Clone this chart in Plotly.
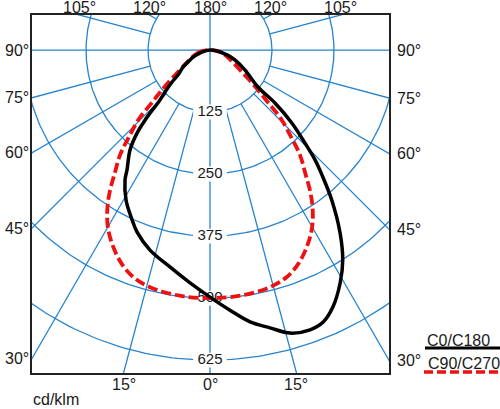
import numpy as np
import plotly.graph_objects as go

# C0/C180 curve: angle from nadir (negative = C180 side, left), cd/klm
# the curve closes through the centre (180° / 0 cd/klm) at both ends
c0_gamma = [-180, -73.3, -67.6, -63.4, -57.8, -52, -49.9, -47, -44.5, -43.6, -42.5, -41.3, -38.7,
            -34.7, -33.2, -29.2, -24.6, -21.9, -16.7, -10.4, -4.9, 0, 4.4, 8.4, 12.2, 15.8, 19.7,
            22.6, 25.6, 29.2, 32.3, 35.4, 39.1, 41.9, 43.7, 45.6, 48.3, 50.8, 52.4, 60.3, 68.2,
            74, 180]
c0_cd = [0, 21, 37, 45, 64, 82, 100, 124, 150, 175, 200, 223, 258,
         294, 313, 347, 377, 395, 421, 445, 471, 498, 526, 554, 573, 593, 599,
         594, 574, 538, 501, 453, 389, 338, 307, 268, 221, 169, 122, 81, 54,
         36, 0]

# C90/C270 curve (symmetric): one half, mirrored below
c90_gamma = [0, 7, 14.2, 18.7, 22.5, 26.5, 30, 33, 35.5, 37.5, 40.6, 43, 46, 47.6, 49.5, 52, 56,
             62, 70, 80, 180]
c90_cd = [500, 499, 493, 483, 466, 440, 412, 380, 347, 317, 279, 240, 198, 163, 135, 108, 75,
          52, 35, 21, 0]

ring_values = [125, 250, 375, 500, 625]
ray_angles = list(range(-165, 181, 15))
side_labels = [90, 75, 60, 45, 30]
top_labels = [105, 120]
bottom_labels = [15, 0]

grid_col = "#2583cf"
font = "Arial, Liberation Sans, sans-serif"

x_rng = [-359, 361]
y_rng = [-651, 70.6]


def to_xy(gamma, cd):
    g = np.radians(np.asarray(gamma, dtype=float))
    cd = np.asarray(cd, dtype=float)
    return cd * np.sin(g), -cd * np.cos(g)


fig = go.Figure()

# rings
t = np.radians(np.arange(0, 361, 1))
gx, gy = [], []
for r in ring_values:
    gx += list(r * np.sin(t)) + [None]
    gy += list(-r * np.cos(t)) + [None]
# rays
for a in ray_angles:
    r0 = 0 if a % 90 == 0 else ring_values[0]
    x, y = to_xy([a, a], [r0, 1200])
    gx += list(x) + [None]
    gy += list(y) + [None]
fig.add_trace(go.Scatter(x=gx, y=gy, mode="lines", line=dict(color=grid_col, width=1.3),
                         hoverinfo="skip", showlegend=False))

# white boxes behind ring labels
bx, by = [], []
for r in ring_values:
    bx += [-34, 34, 34, -34, -34, None]
    by += [-r - 15, -r - 15, -r + 15, -r + 15, -r - 15, None]
fig.add_trace(go.Scatter(x=bx, y=by, mode="lines", fill="toself", fillcolor="white",
                         line=dict(width=0, color="white"), hoverinfo="skip", showlegend=False))
fig.add_trace(go.Scatter(x=[0] * len(ring_values), y=[-r for r in ring_values], mode="text",
                         text=[str(r) for r in ring_values],
                         textfont=dict(family=font, size=15, color="#1a1a1a"),
                         hoverinfo="skip", showlegend=False))

# curves
rg = [-g for g in c90_gamma[::-1]] + c90_gamma[1:]
rc = c90_cd[::-1] + c90_cd[1:]
x, y = to_xy(rg, rc)
fig.add_trace(go.Scatter(x=x, y=y, mode="lines", line=dict(color="#ee1111", width=3.8, dash="10px,4px",
                                                           shape="spline", smoothing=1),
                         showlegend=False))
x, y = to_xy(c0_gamma, c0_cd)
fig.add_trace(go.Scatter(x=x, y=y, mode="lines", line=dict(color="black", width=3.5,
                                                           shape="spline", smoothing=1),
                         showlegend=False))

ann = []
# top angle labels
ann.append(dict(x=0, y=1, xref="x", yref="paper", text="180°", showarrow=False,
                yanchor="bottom", yshift=-3))
for a in top_labels:
    xx = y_rng[1] / np.tan(np.radians(a - 90))
    for s in (-1, 1):
        ann.append(dict(x=s * xx, y=1, xref="x", yref="paper", text=f"{a}°", showarrow=False,
                        yanchor="bottom", yshift=-3))
# side angle labels
for a in side_labels:
    yl = 0 if a == 90 else x_rng[0] / np.tan(np.radians(a))
    ann.append(dict(x=0, y=yl, xref="paper", yref="y", text=f"{a}°", showarrow=False,
                    xanchor="right", xshift=-1))
    yr = 0 if a == 90 else -x_rng[1] / np.tan(np.radians(a))
    ann.append(dict(x=1, y=yr, xref="paper", yref="y", text=f"{a}°", showarrow=False,
                    xanchor="left", xshift=6))
# bottom angle labels
for a in bottom_labels:
    xb = -y_rng[0] * np.tan(np.radians(a))
    for s in ((-1, 1) if a else (1,)):
        ann.append(dict(x=s * xb, y=0, xref="x", yref="paper", text=f"{a}°", showarrow=False,
                        yanchor="top", yshift=-1))


# page pixel -> paper fraction (plot area spans x 32..389, y 15..373)
def px_x(p):
    return (p - 32) / 357


def px_y(p):
    return (373 - p) / 358


ann.append(dict(x=px_x(32), y=px_y(409), xref="paper", yref="paper", text="cd/klm", showarrow=False,
                xanchor="left", yanchor="bottom", xshift=-1, yshift=-1))

# legend drawn by hand (text above line)
ann.append(dict(x=px_x(425), y=px_y(340), xref="paper", yref="paper", text="C0/C180",
                showarrow=False, xanchor="left", yanchor="middle"))
ann.append(dict(x=px_x(426), y=px_y(363), xref="paper", yref="paper", text="C90/C270",
                showarrow=False, xanchor="left", yanchor="middle"))
shapes = [
    dict(type="line", xref="paper", yref="paper", x0=px_x(425), x1=px_x(500), y0=px_y(348), y1=px_y(348),
         line=dict(color="black", width=3)),
    dict(type="line", xref="paper", yref="paper", x0=px_x(424), x1=px_x(500), y0=px_y(372), y1=px_y(372),
         line=dict(color="#ee1111", width=3.5, dash="9px,4px")),
]

fig.update_layout(
    width=500, height=409,
    margin=dict(l=32, r=111, t=15, b=36),
    paper_bgcolor="white", plot_bgcolor="white",
    font=dict(family=font, size=16, color="#1a1a1a"),
    showlegend=False,
    annotations=ann, shapes=shapes,
    xaxis=dict(range=x_rng, showgrid=False, zeroline=False, showticklabels=False, ticks="",
               showline=True, mirror=True, linecolor="#222", linewidth=1.5),
    yaxis=dict(range=y_rng, showgrid=False, zeroline=False, showticklabels=False, ticks="",
               showline=True, mirror=True, linecolor="#222", linewidth=1.5),
)

# drop the browser's default 8px page margin so the figure sits at the corner
fig.write_html("out.html", config={"displayModeBar": False},
               post_script="document.body.style.margin='0px';")
